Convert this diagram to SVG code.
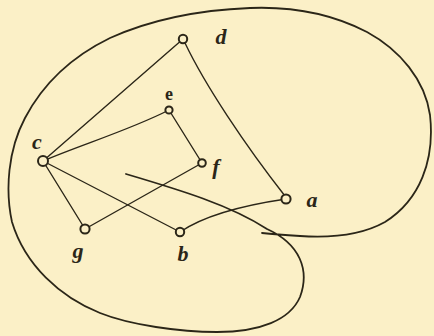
<svg xmlns="http://www.w3.org/2000/svg" width="434" height="336" viewBox="0 0 434 336">
<style>
.bg{fill:#fbf0c7}
.edge{fill:none;stroke:#2b2618;stroke-width:1.4;stroke-linecap:round}
.outline{fill:none;stroke:#2b2618;stroke-width:1.8;stroke-linecap:round}
.node{fill:#fbf0c7;stroke:#2b2618;stroke-width:2}
.lbl{font-family:"Liberation Serif",serif;font-style:italic;font-weight:bold;font-size:22px;fill:#2b2618;text-anchor:middle}
</style>
<rect class="bg" x="0" y="0" width="434" height="336"/>
<path class="outline" d="M126,174 C180,190 230,205 267,229 C300,244 310,270 300,297 C290,320 260,332 217,332 C180,332 130,325 100,313 C60,297 25,265 12,222 C5,190 8,150 25,118 C45,80 75,55 110,38 C150,20 200,10 250,8 C300,6 340,18 367,32 C400,50 425,80 430,115 C435,160 420,200 385,222 C360,236 330,238 300,236 C285,235 272,234 262,233"/>
<g id="connectors">
<path class="edge" d="M43,161 L183,39"/>
<path class="edge" d="M185,43 C205,85 245,145 285,196"/>
<path class="edge" d="M43,161 C80,145 130,130 169,110"/>
<path class="edge" d="M169,110 L202,163"/>
<path class="edge" d="M43,161 L85,229"/>
<path class="edge" d="M85,229 L202,163"/>
<path class="edge" d="M43,161 L180,232"/>
<path class="edge" d="M180,232 C205,215 245,205 286,199"/>
</g>
<g id="node-d"><circle class="node" cx="183" cy="39" r="4.2"/><text class="lbl" x="221" y="44">d</text></g>
<g id="node-e"><circle class="node" cx="169" cy="110" r="3.6"/><text class="lbl" x="169" y="100" style="font-style:normal;font-size:18px">e</text></g>
<g id="node-c"><circle class="node" cx="43" cy="161" r="5"/><text class="lbl" x="37" y="149">c</text></g>
<g id="node-f"><circle class="node" cx="202" cy="163" r="3.8"/><text class="lbl" x="216" y="174">f</text></g>
<g id="node-a"><circle class="node" cx="286" cy="199" r="4.6"/><text class="lbl" x="312" y="207">a</text></g>
<g id="node-g"><circle class="node" cx="85" cy="229" r="4.6"/><text class="lbl" x="78" y="258">g</text></g>
<g id="node-b"><circle class="node" cx="180" cy="232" r="4.2"/><text class="lbl" x="183" y="261">b</text></g>
</svg>
